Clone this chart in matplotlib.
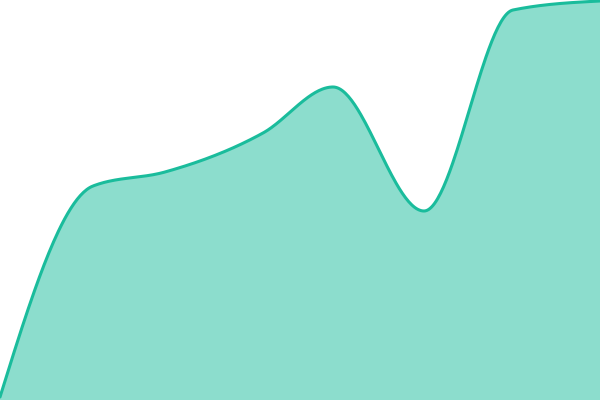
import numpy as np
import matplotlib
matplotlib.use('Agg')
import matplotlib.pyplot as plt

# data
xs = [0, 93, 165, 263, 333, 424, 513, 600]
ys = [3, 214, 228, 267, 313, 189, 390, 399]

line_color = '#1abc9c'


def monotone_x(x, y, n=60):
    # same as d3.curveMonotoneX
    x = np.asarray(x, float)
    y = np.asarray(y, float)
    h = np.diff(x)
    s = np.diff(y) / h
    t = np.zeros(len(x))
    for i in range(1, len(x) - 1):
        p = (s[i-1] * h[i] + s[i] * h[i-1]) / (h[i-1] + h[i])
        t[i] = (np.sign(s[i-1]) + np.sign(s[i])) * min(abs(s[i-1]), abs(s[i]), 0.5 * abs(p))
    t[0] = (3 * s[0] - t[1]) / 2
    t[-1] = (3 * s[-1] - t[-2]) / 2
    px, py = [], []
    u = np.linspace(0, 1, n)
    for i in range(len(x) - 1):
        dx = h[i] / 3
        P = np.array([[x[i], y[i]],
                      [x[i] + dx, y[i] + dx * t[i]],
                      [x[i+1] - dx, y[i+1] - dx * t[i+1]],
                      [x[i+1], y[i+1]]])
        b = ((1-u)**3)[:, None] * P[0] + (3*(1-u)**2*u)[:, None] * P[1] \
            + (3*(1-u)*u**2)[:, None] * P[2] + (u**3)[:, None] * P[3]
        px.extend(b[:, 0])
        py.extend(b[:, 1])
    return np.array(px), np.array(py)


cx, cy = monotone_x(xs, ys)

fig = plt.figure(figsize=(6, 4), dpi=100)
ax = fig.add_axes([0, 0, 1, 1])
ax.fill_between(cx, 0, cy, color=line_color, alpha=0.5, linewidth=0)
ax.plot(cx, cy, color=line_color, linewidth=2.2, solid_capstyle='round')
ax.set_xlim(0, 600)
ax.set_ylim(0, 400)
ax.axis('off')

fig.savefig('out.png', dpi=100)
